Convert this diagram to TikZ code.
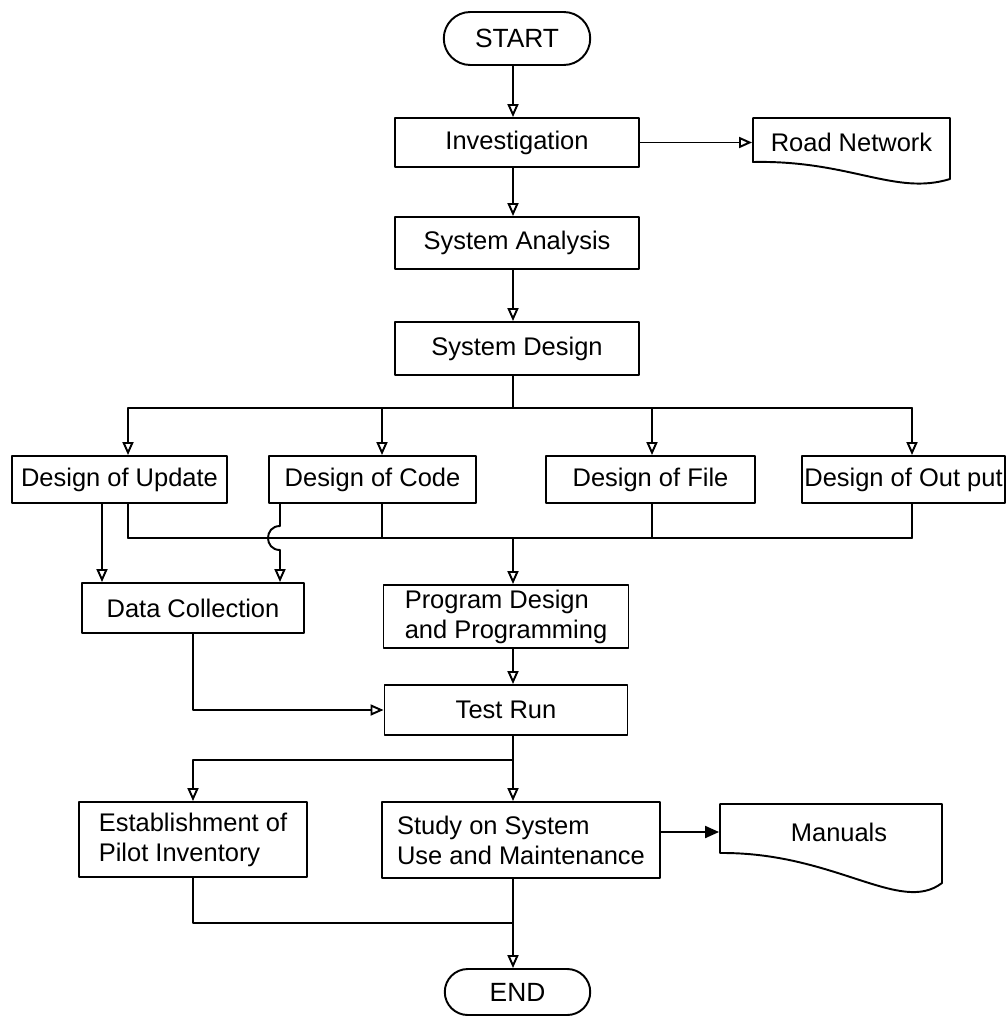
\documentclass[tikz,border=0pt]{standalone}
\usepackage{fontspec}
\setmainfont{Liberation Sans}
\usetikzlibrary{arrows.meta,shapes.misc,calc}
\tikzset{
  box/.style={draw, rectangle, inner sep=1pt, align=left, font=\fontsize{14.5}{17}\selectfont},
  term/.style={draw, rounded rectangle, inner sep=1pt, font=\fontsize{15}{17}\selectfont},
  doc/.style={rectangle, inner sep=1pt, font=\fontsize{14.5}{17}\selectfont},
  solidtip/.style={-{Triangle[length=0.28cm, width=0.24cm]}}
}
\begin{document}
\begin{tikzpicture}[x=0.02cm, y=-0.02cm, line cap=round, line join=round, line width=1.1pt,
    >={Triangle[open, length=0.26cm, width=0.22cm]}]
  \useasboundingbox (0,0) rectangle (1007,1017);
  \coordinate (col) at (513,0);
  \coordinate (split) at (513,408);
  \coordinate (merge) at (513,538);
  \coordinate (split2) at (513,760);
  \coordinate (merge2) at (513,923);
  \coordinate (xu) at (128,0);
  \coordinate (xc) at (382,0);
  \coordinate (xf) at (652,0);
  \coordinate (xo) at (912,0);
  \coordinate (xd) at (102,0);
  \coordinate (hop) at (280,538);
  % main column
  \node[term, minimum width=3cm, minimum height=1.06cm] (start) at (517,38.5) {START};
  \node[box, minimum width=4.88cm, minimum height=0.98cm] (inv) at (517,142.5) {Investigation};
  \node[doc, minimum width=3.94cm, minimum height=0.8cm] (road) at (851.5,142.5) {Road Network};
  \node[box, minimum width=4.88cm, minimum height=1.04cm] (sa) at (517,243) {System Analysis};
  \node[box, minimum width=4.88cm, minimum height=1.06cm] (sd) at (517,348.5) {System Design};
  % design row
  \node[box, minimum width=4.3cm, minimum height=0.94cm] (upd) at (119.5,479.5) {Design of Update};
  \node[box, minimum width=4.14cm, minimum height=0.94cm] (code) at (372.5,479.5) {Design of Code};
  \node[box, minimum width=4.18cm, minimum height=0.94cm] (file) at (650.5,479.5) {Design of File};
  \node[box, minimum width=4.06cm, minimum height=0.94cm] (out) at (903.5,479.5) {Design of Out put};
  % lower part
  \node[box, minimum width=4.44cm, minimum height=1cm] (dc) at (193,608) {Data Collection};
  \node[box, minimum width=4.9cm, minimum height=1.26cm] (pd) at (506,616.5) {Program Design\\and Programming};
  \node[box, minimum width=4.86cm, minimum height=1cm] (tr) at (506,710) {Test Run};
  \node[box, minimum width=4.56cm, minimum height=1.5cm] (est) at (193,839.5) {Establishment of\\Pilot Inventory};
  \node[box, minimum width=5.56cm, minimum height=1.52cm] (study) at (521,840) {Study on System\\Use and Maintenance};
  \node[doc, minimum width=4.76cm, minimum height=0.8cm] (manuals) at (839,832) {Manuals};
  \node[term, minimum width=2.98cm, minimum height=0.92cm] (finish) at (517.5,992) {END};
  % document outlines
  \draw (753,162) -- (753,118) -- (950,118) -- (950,179) .. controls (895,196) and (850,160) .. cycle;
  \draw (720,853) -- (720,804) -- (942,804) -- (942,883) .. controls (900,915) and (835,852) .. cycle;
  % connectors
  \draw[->] (start.south -| col) -- (inv.north -| col);
  \draw[->] (inv) -- (road);
  \draw[->] (inv.south -| col) -- (sa.north -| col);
  \draw[->] (sa.south -| col) -- (sd.north -| col);
  \draw (sd.south -| col) -- (split);
  \draw (split -| xu) -- (split -| xo);
  \foreach \n/\c in {upd/xu, code/xc, file/xf, out/xo} {
    \draw[->] (split -| \c) -- (\n.north -| \c);
    \draw (\n.south -| \c) -- (merge -| \c);
  }
  \draw (merge -| xu) -- (merge -| xo);
  \draw[->] (merge) -- (pd.north -| col);
  \draw[->] (upd.south -| xd) -- (dc.north -| xd);
  \draw[->] (code.south -| hop) -- ($(hop)+(0,-12)$) .. controls ($(hop)+(-16,-12)$) and ($(hop)+(-16,12)$) .. ($(hop)+(0,12)$) -- (dc.north -| hop);
  \draw[->] (pd.south -| col) -- (tr.north -| col);
  \draw[->] (dc.south) |- (tr.west);
  \draw[->] (tr.south -| col) -- (study.north -| col);
  \draw[->] (split2) -| (est.north);
  \draw[solidtip] (study.east |- manuals.west) -- (manuals.west);
  \draw (est.south) |- (merge2);
  \draw[->] (study.south -| col) -- (finish.north -| col);
\end{tikzpicture}
\end{document}
